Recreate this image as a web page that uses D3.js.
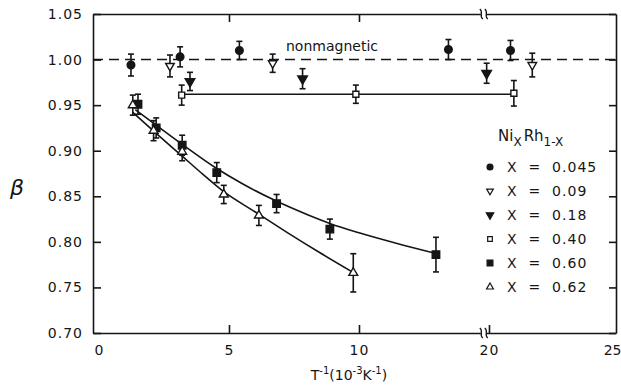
<html>
<head>
<style>
body { margin: 0; background: #fff; }
text { font-family: "DejaVu Sans", sans-serif; fill: #151515; }
</style>
</head>
<body>
<svg width="621" height="385" id="chart"></svg>

<script src="https://cdn.jsdelivr.net/npm/d3@7"></script>
<script>
// [x (10^-3 K^-1), beta, error]
var series045 = [[1.23, 0.994, 0.012], [3.12, 1.003, 0.011], [5.4, 1.010, 0.010], [13.44, 1.011, 0.011], [20.83, 1.010, 0.011]];
var series09  = [[2.73, 0.993, 0.012], [6.68, 0.996, 0.010], [21.67, 0.994, 0.013]];
var series18  = [[3.5, 0.976, 0.010], [7.83, 0.979, 0.011], [19.91, 0.985, 0.011]];
var series40  = [[3.18, 0.961, 0.011], [9.88, 0.962, 0.010], [20.96, 0.963, 0.014]];
var series60  = [[1.5, 0.951, 0.011], [2.2, 0.925, 0.011], [3.2, 0.906, 0.011], [4.53, 0.876, 0.011], [6.83, 0.842, 0.010], [8.88, 0.814, 0.011], [12.96, 0.786, 0.019]];
var series62  = [[1.3, 0.950, 0.011], [2.1, 0.922, 0.011], [3.2, 0.899, 0.010], [4.8, 0.852, 0.010], [6.15, 0.829, 0.011], [9.78, 0.766, 0.021]];

// drawn fit curves
var fit40 = [[3.3, 0.962], [20.9, 0.962]];
var fit60 = [[1.4, 0.945], [2.2, 0.928], [3.2, 0.907], [4.5, 0.881], [5.5, 0.864], [6.8, 0.845], [8, 0.830], [8.9, 0.820], [10, 0.810], [11.5, 0.798], [13, 0.787]];
var fit62 = [[1.3, 0.942], [2.2, 0.919], [3.2, 0.894], [4.0, 0.874], [4.8, 0.855], [6.0, 0.833], [7.2, 0.811], [8.5, 0.788], [9.8, 0.766]];
var nonmagnetic = 1.0;

var xTicks = [0, 5, 10, 20, 25];
var yTicks = [0.70, 0.75, 0.80, 0.85, 0.90, 0.95, 1.00, 1.05];
var legendLabels = ["X = 0.045", "X = 0.09", "X = 0.18", "X = 0.40", "X = 0.60", "X = 0.62"];

var ink = "#151515";
var svg = d3.select("#chart");

// broken x axis: 14.8 on the left side meets 19.8 on the right side
var x = d3.scaleLinear().domain([-0.23, 14.8, 19.8, 24.9]).range([93, 483.8, 483.8, 616]);
var y = d3.scaleLinear().domain([0.70, 1.05]).range([333, 14]);
var xBreak = x(14.8);

function styleAxis(g) {
    g.selectAll("path, line").attr("stroke", ink).attr("stroke-width", 1.6);
    g.selectAll("text").style("font-size", "14px").style("letter-spacing", "1px").attr("fill", ink);
}

var bottom = svg.append("g").attr("transform", "translate(0,333)")
    .call(d3.axisBottom(x).tickValues(xTicks).tickSizeInner(-8).tickSizeOuter(0).tickPadding(12).tickFormat(d3.format("d")))
    .call(styleAxis);
bottom.selectAll(".tick line").filter(function(d) { return d == 0 || d == 25; }).remove();
// last label would run off the page, keep it inside
bottom.selectAll(".tick text").filter(function(d) { return d == 25; })
    .attr("text-anchor", "end").attr("x", 621 - x(25)).style("letter-spacing", "0px");

svg.append("g").attr("transform", "translate(0,14)")
    .call(d3.axisTop(x).tickValues([5, 10]).tickSizeInner(-8).tickSizeOuter(0).tickFormat(""))
    .call(styleAxis);

svg.append("g").attr("transform", "translate(93,0)")
    .call(d3.axisLeft(y).tickValues(yTicks).tickSizeInner(-8).tickSizeOuter(0).tickPadding(10).tickFormat(d3.format(".2f")))
    .call(styleAxis);

svg.append("g").attr("transform", "translate(616,0)")
    .call(d3.axisRight(y).tickValues(yTicks).tickSizeInner(-7).tickSizeOuter(0).tickFormat(""))
    .call(styleAxis);

// break marks on top and bottom axes
[14, 333].forEach(function(yy) {
    svg.append("rect").attr("x", xBreak - 3).attr("y", yy - 3).attr("width", 6).attr("height", 6).attr("fill", "#fff");
    [-2.5, 2.5].forEach(function(dx) {
        var cx = xBreak + dx;
        svg.append("path")
            .attr("d", "M" + (cx - 1.5) + "," + (yy - 5) + " C" + (cx + 2.5) + "," + (yy - 2) + " " + (cx - 2.5) + "," + (yy + 2) + " " + (cx + 1.5) + "," + (yy + 5))
            .attr("fill", "none").attr("stroke", ink).attr("stroke-width", 1.3);
    });
});

// nonmagnetic reference
svg.append("line")
    .attr("x1", x.range()[0]).attr("x2", x.range()[3])
    .attr("y1", y(nonmagnetic)).attr("y2", y(nonmagnetic))
    .attr("stroke", ink).attr("stroke-width", 1.6).attr("stroke-dasharray", "10,6");
svg.append("text").attr("x", 286).attr("y", 51).style("font-size", "14px").text("nonmagnetic");

// fit lines
var line = d3.line().x(function(d) { return x(d[0]); }).y(function(d) { return y(d[1]); });
svg.append("path").attr("d", line(fit40)).attr("fill", "none").attr("stroke", ink).attr("stroke-width", 1.6);
var smooth = d3.line().curve(d3.curveMonotoneX).x(function(d) { return x(d[0]); }).y(function(d) { return y(d[1]); });
svg.append("path").attr("d", smooth(fit60)).attr("fill", "none").attr("stroke", ink).attr("stroke-width", 1.6);
svg.append("path").attr("d", smooth(fit62)).attr("fill", "none").attr("stroke", ink).attr("stroke-width", 1.6);

// marker shapes
var shapes = [
    { data: series045, type: d3.symbolCircle,   size: 46, fill: ink,    rot: 0 },
    { data: series09,  type: d3.symbolTriangle, size: 32, fill: "#fff", rot: 180 },
    { data: series18,  type: d3.symbolTriangle, size: 40, fill: ink,    rot: 180 },
    { data: series40,  type: d3.symbolSquare,   size: 36, fill: "#fff", rot: 0 },
    { data: series60,  type: d3.symbolSquare,   size: 56, fill: ink,    rot: 0 },
    { data: series62,  type: d3.symbolTriangle, size: 34, fill: "#fff", rot: 0 }
];

shapes.forEach(function(s) {
    var g = svg.append("g");
    var pts = g.selectAll(".pt").data(s.data).enter().append("g")
        .attr("transform", function(d) { return "translate(" + x(d[0]) + ",0)"; });
    pts.append("line")
        .attr("y1", function(d) { return y(d[1] - d[2]); })
        .attr("y2", function(d) { return y(d[1] + d[2]); })
        .attr("stroke", ink).attr("stroke-width", 1.6);
    pts.append("line").attr("x1", -3).attr("x2", 3)
        .attr("y1", function(d) { return y(d[1] - d[2]); }).attr("y2", function(d) { return y(d[1] - d[2]); })
        .attr("stroke", ink).attr("stroke-width", 1.6);
    pts.append("line").attr("x1", -3).attr("x2", 3)
        .attr("y1", function(d) { return y(d[1] + d[2]); }).attr("y2", function(d) { return y(d[1] + d[2]); })
        .attr("stroke", ink).attr("stroke-width", 1.6);
    pts.append("path")
        .attr("d", d3.symbol(s.type, s.size))
        .attr("transform", function(d) { return "translate(0," + y(d[1]) + ") rotate(" + s.rot + ")"; })
        .attr("fill", s.fill).attr("stroke", ink).attr("stroke-width", 1.4);
});

// legend
var title = svg.append("text").attr("x", 498).attr("y", 141).style("font-size", "15px");
title.append("tspan").text("Ni");
title.append("tspan").attr("dy", 5).style("font-size", "12px").text("X");
title.append("tspan").attr("dy", -5).attr("dx", 2).text("Rh");
title.append("tspan").attr("dy", 5).style("font-size", "12px").text("1-X");

var leg = svg.selectAll(".leg").data(shapes).enter().append("g")
    .attr("transform", function(d, i) { return "translate(490," + (167 + i * 24) + ")"; });
leg.append("path")
    .attr("d", function(d) { return d3.symbol(d.type, d.size * 0.6)(); })
    .attr("transform", function(d) { return "rotate(" + d.rot + ")"; })
    .attr("fill", function(d) { return d.fill; }).attr("stroke", ink).attr("stroke-width", 1.2);
leg.append("text").attr("x", 17).attr("y", 5).style("font-size", "14px").style("letter-spacing", "1px")
    .attr("xml:space", "preserve")
    .text(function(d, i) { return legendLabels[i].replace(" = ", "  =  "); });

// axis titles
var xt = svg.append("text").attr("x", 349).attr("y", 380).attr("text-anchor", "middle").style("font-size", "14px");
xt.append("tspan").text("T");
xt.append("tspan").attr("dy", -6).style("font-size", "10px").text("-1");
xt.append("tspan").attr("dy", 6).text("(10");
xt.append("tspan").attr("dy", -6).style("font-size", "10px").text("-3");
xt.append("tspan").attr("dy", 6).text("K");
xt.append("tspan").attr("dy", -6).style("font-size", "10px").text("-1");
xt.append("tspan").attr("dy", 6).text(")");

svg.append("text").attr("x", 17).attr("y", 195).attr("text-anchor", "middle")
    .style("font-size", "22px").style("font-style", "italic").text("β");
</script>
</body>
</html>
